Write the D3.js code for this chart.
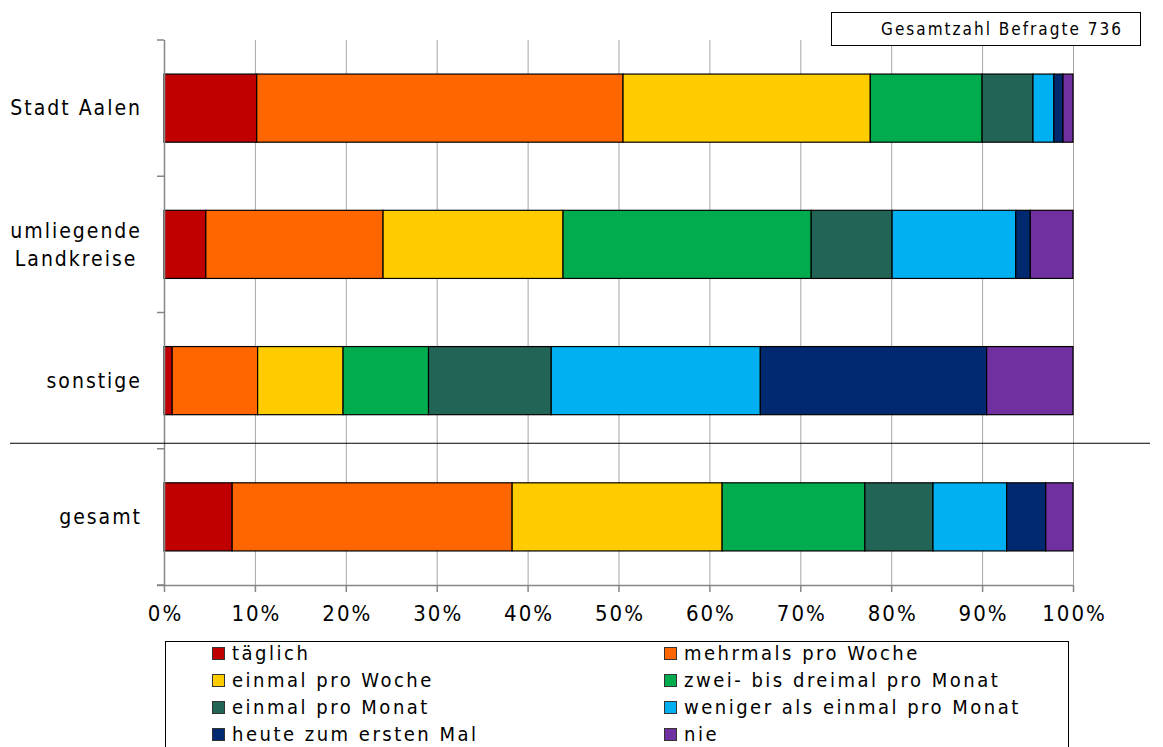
<!DOCTYPE html>
<html>
<head>
<meta charset="utf-8">
<script src="https://cdn.jsdelivr.net/npm/d3@7"></script>
<style>
  html, body { margin: 0; padding: 0; background: #fff; }
  svg { display: block; }
  text { font-family: "DejaVu Sans Condensed", "DejaVu Sans", sans-serif; fill: #000; }
</style>
</head>
<body>
<svg id="chart" width="1163" height="747"></svg>
<script>
// Besuchshäufigkeit nach Herkunft (Anteile in %)
const categories = ["Stadt Aalen", "umliegende Landkreise", "sonstige", "gesamt"];
const categoryLines = [["Stadt Aalen"], ["umliegende", "Landkreise"], ["sonstige"], ["gesamt"]];
const seriesNames = [
  "täglich", "mehrmals pro Woche", "einmal pro Woche", "zwei- bis dreimal pro Monat",
  "einmal pro Monat", "weniger als einmal pro Monat", "heute zum ersten Mal", "nie"
];
const seriesColors = ["#C00000", "#FF6600", "#FFCC00", "#00AC4E", "#226455", "#00B0F0", "#002970", "#7030A0"];
const taeglich       = [10.2,  4.6,  0.9,  7.5];
const mehrmals       = [40.3, 19.5,  9.4, 30.8];
const einmalWoche    = [27.2, 19.8,  9.4, 23.1];
const zweiDreiMonat  = [12.3, 27.3,  9.4, 15.7];
const einmalMonat    = [ 5.6,  8.9, 13.5,  7.5];
const wenigerMonat   = [ 2.3, 13.6, 23.0,  8.1];
const ersterBesuch   = [ 1.0,  1.6, 24.9,  4.3];
const nie            = [ 1.1,  4.7,  9.5,  3.0];
const tickValues = [0, 10, 20, 30, 40, 50, 60, 70, 80, 90, 100];
const totalLabel = "Gesamtzahl Befragte 736";

(function () {
const seriesValues = [taeglich, mehrmals, einmalWoche, zweiDreiMonat, einmalMonat, wenigerMonat, ersterBesuch, nie];

const rows = categories.map((c, i) => {
  const r = { category: c };
  seriesNames.forEach((s, j) => { r[s] = seriesValues[j][i]; });
  return r;
});

const svg = d3.select("#chart");
const plotLeft = 164, plotRight = 1073, plotTop = 40, plotBottom = 585;

const x = d3.scaleLinear().domain([0, 100]).range([plotLeft, plotRight]);
const y = d3.scaleBand().domain(categories).range([plotTop, plotBottom]).paddingInner(0.5).paddingOuter(0.25);

const stacked = d3.stack().keys(seriesNames)(rows);

// vertical gridlines
svg.append("g").selectAll("line")
  .data(tickValues.slice(1))
  .join("line")
  .attr("x1", d => x(d) + 0.5).attr("x2", d => x(d) + 0.5)
  .attr("y1", plotTop).attr("y2", plotBottom)
  .attr("stroke", "#a6a6a6").attr("stroke-width", 1);

// stacked bars
svg.append("g").selectAll("g")
  .data(stacked)
  .join("g")
  .attr("fill", (d, i) => seriesColors[i])
  .selectAll("rect")
  .data(d => d)
  .join("rect")
  .attr("x", d => x(d[0]))
  .attr("width", d => x(d[1]) - x(d[0]))
  .attr("y", d => y(d.data.category))
  .attr("height", y.bandwidth())
  .attr("stroke", "#000")
  .attr("stroke-width", 1.2);

// category axis with ticks on band boundaries
const step = y.step();
const y0 = y.range()[0];
const gy = svg.append("g");
gy.append("line")
  .attr("x1", plotLeft + 0.5).attr("x2", plotLeft + 0.5)
  .attr("y1", plotTop).attr("y2", plotBottom)
  .attr("stroke", "#868686").attr("stroke-width", 1.5);
gy.selectAll("line.tick")
  .data(d3.range(categories.length + 1))
  .join("line").attr("class", "tick")
  .attr("x1", plotLeft - 7).attr("x2", plotLeft)
  .attr("y1", i => y0 + i * step).attr("y2", i => y0 + i * step)
  .attr("stroke", "#868686").attr("stroke-width", 1.5);

// category labels, right-aligned block, lines centered in the block
const labelRight = 142;
categories.forEach((c, i) => {
  const lines = categoryLines[i];
  const cy = y(c) + y.bandwidth() / 2;
  const g = svg.append("g");
  const lh = 28;
  const texts = lines.map((l, k) => g.append("text")
    .attr("y", cy + (k - (lines.length - 1) / 2) * lh)
    .attr("dy", "0.35em")
    .attr("font-size", 21)
    .attr("letter-spacing", 2)
    .text(l));
  const widths = texts.map(t => t.node().getComputedTextLength());
  const maxW = d3.max(widths);
  texts.forEach(t => {
    t.attr("text-anchor", "middle").attr("x", labelRight - maxW / 2);
  });
});

// value axis
const xAxis = d3.axisBottom(x).tickValues(tickValues).tickFormat(d => d + "%").tickSize(7).tickPadding(13);
const gx = svg.append("g").attr("transform", `translate(0,${plotBottom})`).call(xAxis);
gx.select(".domain").attr("stroke", "#868686").attr("stroke-width", 1.5).attr("d", `M${plotLeft - 7},0.5H${plotRight}`);
gx.selectAll(".tick line").attr("stroke", "#868686").attr("stroke-width", 1.5);
gx.selectAll(".tick text")
  .attr("font-family", "\"DejaVu Sans Condensed\", sans-serif")
  .attr("font-size", 22).attr("letter-spacing", 2).attr("dx", 1).attr("fill", "#000");

// separator between single groups and total
const sepY = y0 + 3 * step - 6 + 0.5;
svg.append("line")
  .attr("x1", 10).attr("x2", 1150)
  .attr("y1", sepY).attr("y2", sepY)
  .attr("stroke", "#000").attr("stroke-width", 1);

// total respondents box
const tb = svg.append("g");
tb.append("rect").attr("x", 831.5).attr("y", 12.5).attr("width", 309).attr("height", 33)
  .attr("fill", "#fff").attr("stroke", "#000").attr("stroke-width", 1);
tb.append("text").attr("x", 1002).attr("y", 29).attr("dy", "0.35em")
  .attr("text-anchor", "middle").attr("font-size", 17).attr("letter-spacing", 2)
  .text(totalLabel);

// legend
const lg = svg.append("g");
lg.append("rect").attr("x", 165.5).attr("y", 641.5).attr("width", 903).attr("height", 130)
  .attr("fill", "#fff").attr("stroke", "#000").attr("stroke-width", 1);
const colX = [212, 664];
const rowY = [653, 680, 707, 734];
seriesNames.forEach((s, i) => {
  const cx = colX[i % 2], cy = rowY[Math.floor(i / 2)];
  lg.append("rect").attr("x", cx + 0.5).attr("y", cy - 6 + 0.5).attr("width", 12).attr("height", 12)
    .attr("fill", seriesColors[i]).attr("stroke", "#333").attr("stroke-width", 1);
  lg.append("text").attr("x", cx + 20).attr("y", cy).attr("dy", "0.35em")
    .attr("font-size", 20).attr("letter-spacing", 2.5).text(s);
});
})();
</script>
</body>
</html>
